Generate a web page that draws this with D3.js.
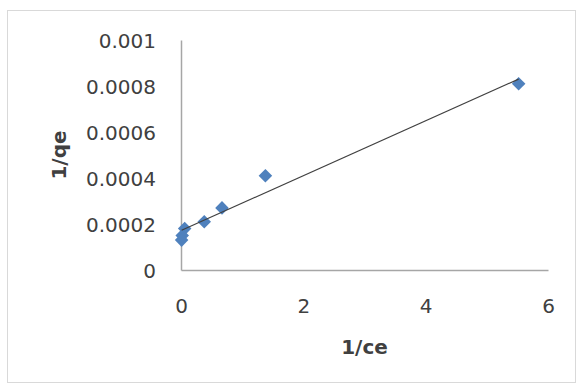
<!DOCTYPE html>
<html>
<head>
<meta charset="utf-8">
<script src="https://cdn.jsdelivr.net/npm/d3@7"></script>
<style>
  html, body { margin: 0; padding: 0; background: #fff; }
  svg { display: block; }
</style>
</head>
<body>
<svg id="chart" width="579" height="388"></svg>
<script>
// Data
const invCe = [5.52, 1.38, 0.67, 0.38, 0.06, 0.02, 0.01];
const invQe = [0.00081, 0.00041, 0.00027, 0.00021, 0.00018, 0.00015, 0.00013];
const xTicks = [0, 2, 4, 6];
const yTicks = [0, 0.0002, 0.0004, 0.0006, 0.0008, 0.001];
const xTitle = "1/ce";
const yTitle = "1/qe";

const svg = d3.select("#chart");

// outer chart border
svg.append("rect")
  .attr("x", 7.5).attr("y", 10.5)
  .attr("width", 568).attr("height", 372)
  .attr("fill", "#fff")
  .attr("stroke", "#d9d9d9").attr("stroke-width", 1);

const x = d3.scaleLinear().domain([0, 6]).range([181, 548]);
const y = d3.scaleLinear().domain([0, 0.001]).range([270, 40]);

const font = "'DejaVu Sans', sans-serif";

// Axes
const xAxis = d3.axisBottom(x).tickValues(xTicks).tickFormat(d3.format("d")).tickSize(0).tickPadding(0);
const gx = svg.append("g").attr("transform", `translate(0,${y(0)})`).call(xAxis);
gx.select(".domain").attr("stroke", "#a6a6a6").attr("stroke-width", 1.5);
gx.selectAll("text")
  .attr("font-family", font).attr("font-size", 20).attr("fill", "#404040")
  .attr("dy", null).attr("y", 43);

const yAxis = d3.axisLeft(y).tickValues(yTicks)
  .tickFormat(d => d === 0 ? "0" : String(+d.toPrecision(3))).tickSize(0).tickPadding(0);
const gy = svg.append("g").attr("transform", `translate(${x(0)},0)`).call(yAxis);
gy.select(".domain").attr("stroke", "#a6a6a6").attr("stroke-width", 1.5);
gy.selectAll("text")
  .attr("font-family", font).attr("font-size", 20).attr("fill", "#404040")
  .attr("x", -25).attr("dy", "0.36em");

// Linear trendline (least squares) over the data x-range
const n = invCe.length;
const mx = d3.mean(invCe), my = d3.mean(invQe);
let sxy = 0, sxx = 0;
for (let i = 0; i < n; i++) { sxy += (invCe[i]-mx)*(invQe[i]-my); sxx += (invCe[i]-mx)**2; }
const slope = sxy / sxx, intercept = my - slope * mx;
const [x0, x1] = d3.extent(invCe);

// markers (diamonds)
svg.append("g").selectAll("path")
  .data(invCe.map((v, i) => [v, invQe[i]]))
  .join("path")
  .attr("d", d3.symbol().type(d3.symbolSquare).size(92))
  .attr("transform", d => `translate(${x(d[0])},${y(d[1])}) rotate(45)`)
  .attr("fill", "#4f81bd");

svg.append("line")
  .attr("x1", x(x0)).attr("y1", y(slope*x0 + intercept))
  .attr("x2", x(x1)).attr("y2", y(slope*x1 + intercept))
  .attr("stroke", "#404040").attr("stroke-width", 1.2);

// Axis titles
svg.append("text")
  .attr("x", (x(0) + x(6)) / 2).attr("y", 354)
  .attr("text-anchor", "middle")
  .attr("font-family", font).attr("font-size", 20).attr("font-weight", "bold").attr("fill", "#404040")
  .text(xTitle);

svg.append("text")
  .attr("transform", `translate(66,${(y(0) + y(0.001)) / 2}) rotate(-90)`)
  .attr("text-anchor", "middle")
  .attr("font-family", font).attr("font-size", 20).attr("font-weight", "bold").attr("fill", "#404040")
  .text(yTitle);
</script>
</body>
</html>
